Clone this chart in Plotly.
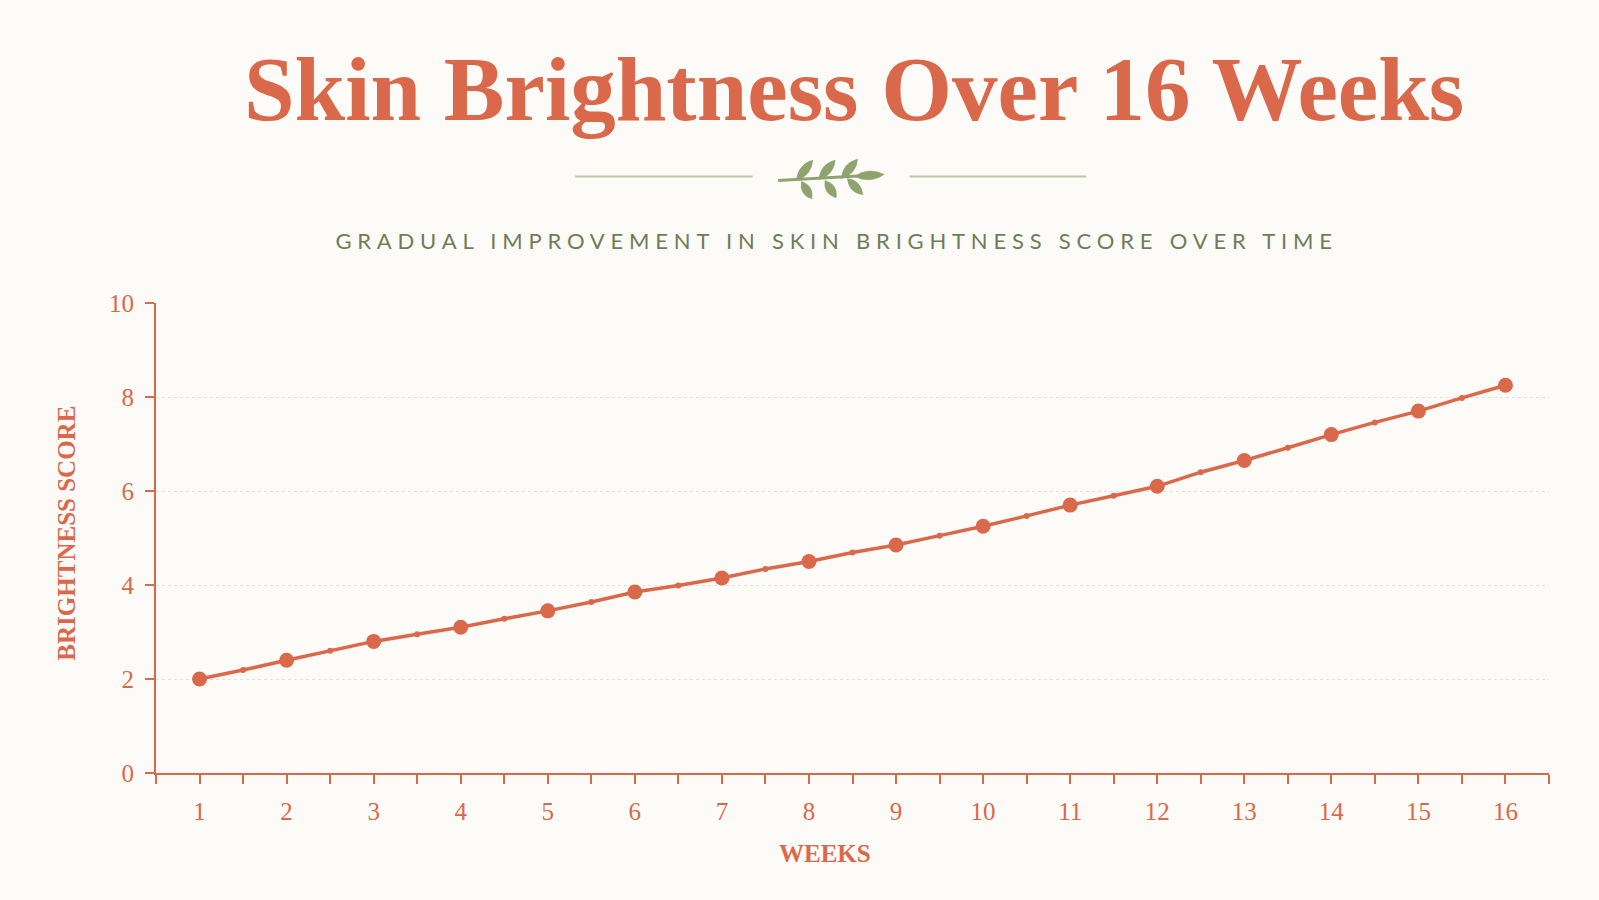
import plotly.graph_objects as go

# data
weeks = list(range(1, 17))
scores = [2.0, 2.4, 2.8, 3.1, 3.45, 3.85, 4.15, 4.5, 4.85, 5.25, 5.7, 6.1, 6.65, 7.2, 7.7, 8.25]
half_weeks = [w + 0.5 for w in range(1, 16)]
half_scores = [2.19, 2.6, 2.95, 3.28, 3.64, 3.99, 4.34, 4.69, 5.05, 5.47, 5.9, 6.4, 6.92, 7.46, 7.98]
y_ticks = [0, 2, 4, 6, 8, 10]

CORAL = "#D9694A"
GREEN = "#6E7D58"
LEAF = "#8FA36E"
RULE = "#BCC7A8"
BG = "#FDFBF7"

W, H = 1599, 900
S = 1599 / 1568  # layout was measured on a 1568px-wide view
L, T = round(153 * S), round(297 * S)
R = W - round(1519 * S)
B = H - round(758 * S)


def px(x, y):
    # measured pixel position -> paper coords
    x, y = x * S, y * S
    return (x - L) / (W - L - R), (H - B - y) / (H - T - B)


def leaf_path(base, tip, half_w):
    bx, by = base
    tx, ty = tip
    dx, dy = tx - bx, ty - by
    n = (dx * dx + dy * dy) ** 0.5
    nx, ny = -dy / n * half_w, dx / n * half_w
    mx, my = (bx + tx) / 2, (by + ty) / 2
    p0 = px(bx, by)
    p1 = px(mx + nx * 2, my + ny * 2)
    p2 = px(tx, ty)
    p3 = px(mx - nx * 2, my - ny * 2)
    return (f"M {p0[0]},{p0[1]} Q {p1[0]},{p1[1]} {p2[0]},{p2[1]} "
            f"Q {p3[0]},{p3[1]} {p0[0]},{p0[1]} Z")


# merge week and half-week points for one continuous line
all_x = sorted(weeks + half_weeks)
lookup = dict(zip(weeks, scores))
lookup.update(dict(zip(half_weeks, half_scores)))
all_y = [lookup[x] for x in all_x]
sizes = [15 if float(x).is_integer() else 6 for x in all_x]

fig = go.Figure()
fig.add_trace(go.Scatter(
    x=all_x, y=all_y, mode="lines+markers",
    line=dict(color=CORAL, width=3.5),
    marker=dict(color=CORAL, size=sizes, opacity=1, line=dict(width=0)),
    hoverinfo="x+y", showlegend=False,
))

shapes = []
# ornament rules
for x0, x1 in [(564, 738), (892, 1065)]:
    a = px(x0, 173)
    b = px(x1, 173)
    shapes.append(dict(type="line", xref="paper", yref="paper",
                       x0=a[0], y0=a[1], x1=b[0], y1=b[1],
                       line=dict(color=RULE, width=2)))
# sprig stem
s0 = px(763, 177)
s1 = px(850, 172)
shapes.append(dict(type="line", xref="paper", yref="paper",
                   x0=s0[0], y0=s0[1], x1=s1[0], y1=s1[1],
                   line=dict(color=LEAF, width=3)))
leaves = [
    ((781, 177), (797, 157)), ((803, 176), (819, 157)), ((825, 175), (841, 156)),
    ((786, 178), (796, 195)), ((809, 177), (820, 194)), ((831, 175), (846, 191)),
    ((838, 173), (867, 171)),
]
for base, tip in leaves:
    shapes.append(dict(type="path", xref="paper", yref="paper",
                       path=leaf_path(base, tip, 4.3),
                       fillcolor=LEAF, line=dict(color=LEAF, width=0.5)))

tx, ty = px(837, 88)
sx, sy = px(820, 236)
xx, xy = px(809, 837)
yx, yy = px(65, 523)

fig.update_layout(
    width=W, height=H,
    paper_bgcolor=BG, plot_bgcolor=BG,
    margin=dict(l=L, r=R, t=T, b=B),
    shapes=shapes,
    annotations=[
        dict(text="Skin Brightness Over 16 Weeks", xref="paper", yref="paper",
             x=tx, y=ty, showarrow=False, xanchor="center", yanchor="middle",
             font=dict(family="Liberation Serif", size=91, color=CORAL, weight="bold")),
        dict(text="GRADUAL IMPROVEMENT IN SKIN BRIGHTNESS SCORE OVER TIME",
             xref="paper", yref="paper", x=sx, y=sy, showarrow=False,
             xanchor="center", yanchor="middle",
             font=dict(family="Lato", size=22, color=GREEN)),
        dict(text="WEEKS", xref="paper", yref="paper", x=xx, y=xy, showarrow=False,
             xanchor="center", yanchor="middle",
             font=dict(family="Liberation Serif", size=25, color=CORAL, weight="bold")),
        dict(text="BRIGHTNESS SCORE", xref="paper", yref="paper", x=yx, y=yy,
             showarrow=False, textangle=-90, xanchor="center", yanchor="middle",
             font=dict(family="Liberation Serif", size=25, color=CORAL, weight="bold")),
    ],
    xaxis=dict(
        range=[0.5, 16.5], tickmode="array", tickvals=weeks,
        ticks="outside", ticklen=9, tickwidth=2, tickcolor=CORAL,
        minor=dict(dtick=0.5, tick0=0.5, ticks="outside", ticklen=9,
                   tickwidth=2, tickcolor=CORAL, showgrid=False),
        showline=True, linecolor=CORAL, linewidth=2,
        showgrid=False, zeroline=False, ticklabelstandoff=6,
        tickfont=dict(family="Liberation Serif", size=25, color=CORAL),
    ),
    yaxis=dict(
        range=[0, 10], tickmode="array", tickvals=y_ticks,
        ticks="outside", ticklen=9, tickwidth=2, tickcolor=CORAL,
        showline=True, linecolor=CORAL, linewidth=2,
        showgrid=True, gridcolor="#E6DFD6", griddash="dot", gridwidth=1,
        zeroline=False, ticklabelstandoff=6,
        tickfont=dict(family="Liberation Serif", size=25, color=CORAL),
    ),
)

post = """
document.body.style.margin = '0';
document.body.style.background = '#FDFBF7';
document.querySelectorAll('.annotation-text').forEach(function(t){
  if (t.textContent.indexOf('GRADUAL') === 0) { t.style.letterSpacing = '5.8px'; }
});
"""
fig.write_html("out.html", post_script=post, config={"displayModeBar": False})
